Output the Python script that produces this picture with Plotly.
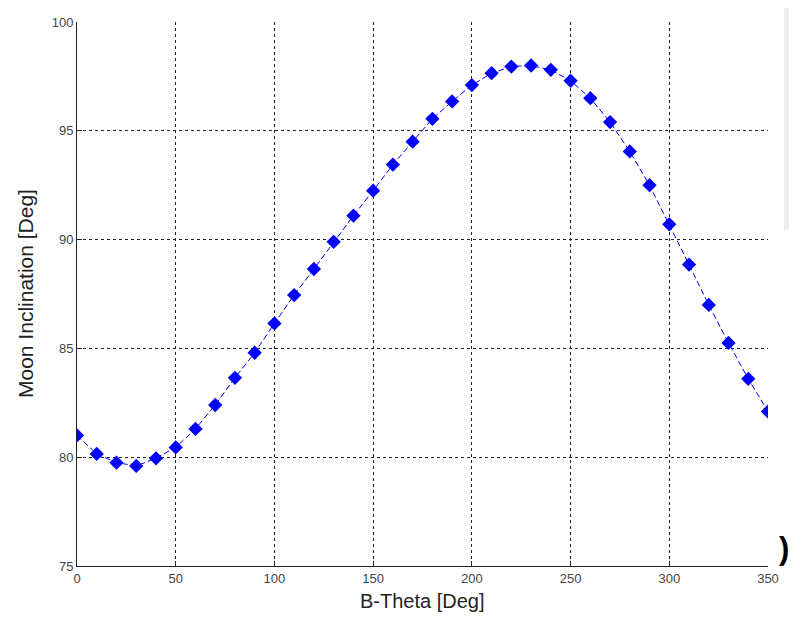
import plotly.graph_objects as go

b_theta = list(range(0, 360, 10))
inclination = [81.0, 80.15, 79.75, 79.6, 79.95, 80.45, 81.3, 82.4, 83.65, 84.8,
               86.15, 87.45, 88.65, 89.9, 91.1, 92.25, 93.45, 94.5, 95.55, 96.35,
               97.1, 97.65, 97.95, 98.0, 97.8, 97.3, 96.5, 95.4, 94.05, 92.5,
               90.7, 88.85, 87.0, 85.25, 83.6, 82.1]
x_ticks = [0, 50, 100, 150, 200, 250, 300, 350]
y_ticks = [75, 80, 85, 90, 95, 100]

# the page body adds an 8px margin, so keep the figure inside the window
W, H = 781, 604
L, T, R, B = 69, 14, 21, 46
PW, PH = W - L - R, H - T - B

fig = go.Figure()
fig.add_trace(go.Scatter(
    x=b_theta, y=inclination, mode="lines+markers",
    line=dict(color="#0000FF", width=1, dash="6px,3px"),
    marker=dict(symbol="diamond", size=11, color="#0000FF"),
    showlegend=False,
))

fig.update_layout(
    width=W, height=H,
    margin=dict(l=L, r=R, t=T, b=B, autoexpand=False),
    paper_bgcolor="white", plot_bgcolor="white",
    font=dict(family="Arial, Liberation Sans, sans-serif", color="#333333"),
    shapes=[
        dict(type="rect", xref="paper", yref="paper",
             x0=(776 - L) / PW, x1=(W - L) / PW,
             y0=1 - (222 - T) / PH, y1=1 + T / PH,
             fillcolor="#EDEDED", line=dict(width=0), layer="below"),
    ],
    annotations=[
        dict(text="<b>)</b>", xref="paper", yref="paper", x=(769 - L) / PW, y=(H - B - 540) / PH,
             showarrow=False, font=dict(size=31, color="black"), xanchor="left", yanchor="middle"),
        dict(text="B-Theta [Deg]", xref="paper", yref="paper", x=0.5, y=0, yshift=-35,
             showarrow=False, font=dict(size=20, color="#222"), xanchor="center", yanchor="middle"),
        dict(text="Moon Inclination [Deg]", xref="paper", yref="paper", x=0, y=0.5, xshift=-52,
             textangle=-90, showarrow=False, font=dict(size=21, color="#222"),
             xanchor="center", yanchor="middle"),
    ],
)
fig.update_xaxes(
    range=[0, 350], tickvals=x_ticks, ticks="inside", ticklen=5, tickcolor="#222",
    showline=True, linecolor="#222", linewidth=1, mirror=False, automargin=False,
    showgrid=True, gridcolor="#222", griddash="3px,3px", gridwidth=1,
    tickfont=dict(size=13, color="#444"),
    zeroline=False,
)
fig.update_yaxes(
    range=[75, 100], tickvals=y_ticks, ticks="inside", ticklen=5, tickcolor="#222",
    showline=True, linecolor="#222", linewidth=1, mirror=False, automargin=False,
    showgrid=True, gridcolor="#222", griddash="3px,3px", gridwidth=1,
    tickfont=dict(size=13, color="#444"),
    zeroline=False,
)
fig.write_html("out.html")
